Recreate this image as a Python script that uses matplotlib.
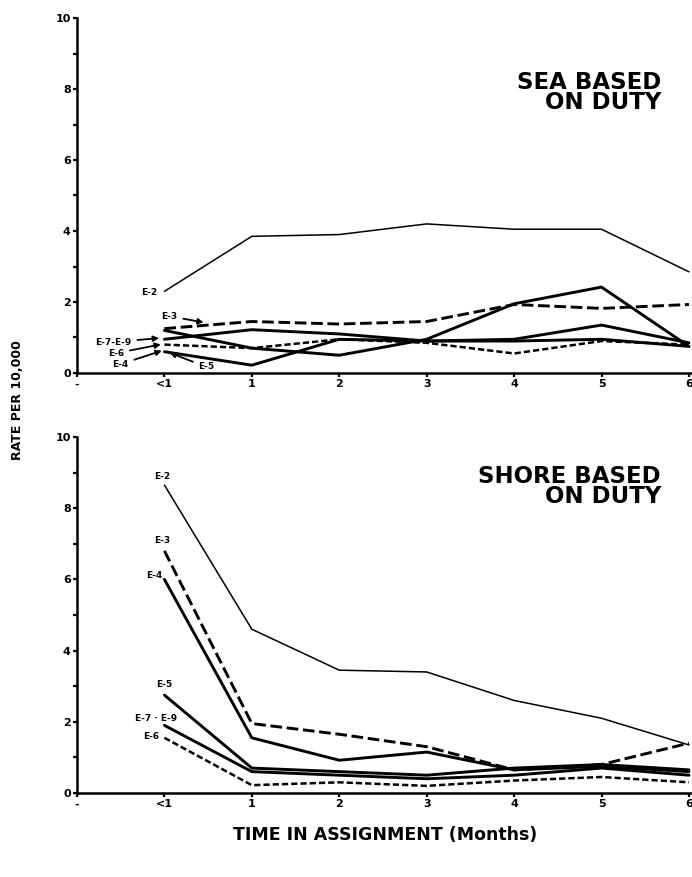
import matplotlib
matplotlib.use("Agg")
import matplotlib.pyplot as plt

x_labels = ["<1", "1", "2", "3", "4", "5", "6"]
x_pos = list(range(len(x_labels)))

# Sea based, on duty
sea_e2 = [2.3, 3.85, 3.9, 4.2, 4.05, 4.05, 2.85]
sea_e3 = [1.25, 1.45, 1.38, 1.45, 1.93, 1.82, 1.93]
sea_e5 = [1.2, 0.7, 0.5, 0.95, 1.95, 2.42, 0.75]
sea_e79 = [0.95, 1.22, 1.1, 0.9, 0.95, 1.35, 0.85]
sea_e6 = [0.8, 0.7, 0.95, 0.85, 0.55, 0.9, 0.8]
sea_e4 = [0.6, 0.22, 0.95, 0.9, 0.9, 0.95, 0.75]

# Shore based, on duty
sh_e2 = [8.65, 4.6, 3.45, 3.4, 2.6, 2.1, 1.35]
sh_e3 = [6.8, 1.95, 1.65, 1.3, 0.65, 0.8, 1.4]
sh_e4 = [6.0, 1.55, 0.92, 1.15, 0.65, 0.75, 0.6]
sh_e5 = [2.75, 0.7, 0.6, 0.5, 0.7, 0.8, 0.65]
sh_e79 = [1.9, 0.6, 0.5, 0.4, 0.5, 0.7, 0.5]
sh_e6 = [1.55, 0.22, 0.3, 0.2, 0.35, 0.45, 0.3]

y_ticks = [0, 2, 4, 6, 8, 10]

fig = plt.figure(figsize=(6.92, 8.77), dpi=100)
ax1 = fig.add_axes([77/692, (877-373)/877, 1-77/692, (373-18)/877])
ax2 = fig.add_axes([77/692, (877-793)/877, 1-77/692, (793-437)/877])

thin = dict(color="black", lw=1.1, solid_capstyle="round")
thick = dict(color="black", lw=2.1, solid_capstyle="round")
dashed = dict(color="black", lw=2.1, dashes=(4, 1.6))
dashed_small = dict(color="black", lw=1.8, dashes=(2.5, 1.2))

for ax in (ax1, ax2):
    ax.set_xlim(-1, 6.035)
    ax.set_ylim(0, 10)
    for s in ("top", "right"):
        ax.spines[s].set_visible(False)
    for s in ("left", "bottom"):
        ax.spines[s].set_linewidth(1.8)
    ax.set_xticks([-1] + x_pos)
    ax.set_xticklabels(["-"] + x_labels, fontsize=8, fontweight="heavy")
    ax.set_yticks(y_ticks)
    ax.set_yticklabels([str(v) for v in y_ticks], fontsize=8, fontweight="heavy")
    ax.set_yticks([1, 3, 5, 7, 9], minor=True)
    ax.tick_params(axis="both", which="both", direction="out", length=3, width=1.6, pad=1.5)
    ax.patch.set_alpha(0)

# top panel lines
ax1.plot(x_pos, sea_e2, **thin)
ax1.plot(x_pos, sea_e3, **dashed)
ax1.plot(x_pos, sea_e5, **thick)
ax1.plot(x_pos, sea_e79, **thick)
ax1.plot(x_pos, sea_e6, **dashed_small)
ax1.plot(x_pos, sea_e4, **thick)

lab = dict(fontsize=6.5, fontweight="heavy", ha="center", va="center")
arr = dict(arrowstyle="-|>,head_length=0.5,head_width=0.25", color="black", lw=1.3)
ax1.text(-0.17, 2.27, "E-2", **lab)
ax1.annotate("E-3", xy=(0.48, 1.41), xytext=(0.06, 1.6), arrowprops=arr, **lab)
ax1.annotate("E-7-E-9", xy=(-0.03, 0.99), xytext=(-0.58, 0.87), arrowprops=arr, **lab)
ax1.annotate("E-6", xy=(-0.01, 0.82), xytext=(-0.55, 0.56), arrowprops=arr, **lab)
ax1.annotate("E-4", xy=(0.0, 0.65), xytext=(-0.5, 0.25), arrowprops=arr, **lab)
ax1.annotate("E-5", xy=(0.03, 0.6), xytext=(0.48, 0.17), arrowprops=arr, **lab)

ax1.text(5.68, 7.9, "SEA BASED\nON DUTY", ha="right", va="center", fontsize=16.5,
         fontweight="heavy", linespacing=0.85)

# bottom panel lines
ax2.plot(x_pos, sh_e2, **thin)
ax2.plot(x_pos, sh_e3, **dashed)
ax2.plot(x_pos, sh_e4, **thick)
ax2.plot(x_pos, sh_e5, **thick)
ax2.plot(x_pos, sh_e79, **thick)
ax2.plot(x_pos, sh_e6, **dashed_small)

ax2.text(-0.02, 8.9, "E-2", **lab)
ax2.text(-0.02, 7.1, "E-3", **lab)
ax2.text(-0.12, 6.1, "E-4", **lab)
ax2.text(0.0, 3.05, "E-5", **lab)
ax2.text(-0.1, 2.1, "E-7 \u00b7 E-9", **lab)
ax2.text(-0.15, 1.58, "E-6", **lab)

ax2.text(5.68, 8.6, "SHORE BASED\nON DUTY", ha="right", va="center", fontsize=16.5,
         fontweight="heavy", linespacing=0.85)

fig.text(18/692, 1-400/877, "RATE PER 10,000", rotation=90, ha="center", va="center",
         fontsize=9, fontweight="heavy")
fig.text(385/692, 1-835/877, "TIME IN ASSIGNMENT (Months)", ha="center", va="center",
         fontsize=12.5, fontweight="heavy")

fig.savefig("out.png", dpi=100)
